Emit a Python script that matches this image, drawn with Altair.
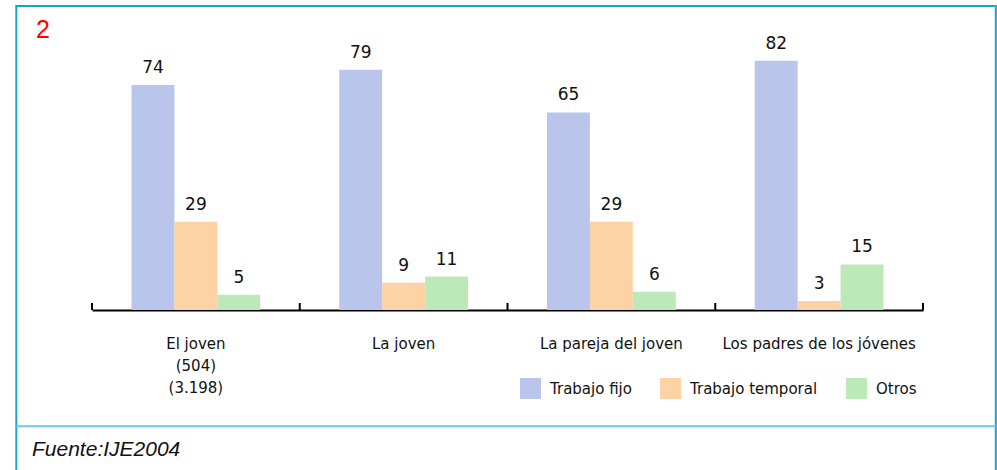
import altair as alt
import pandas as pd

# --- data -------------------------------------------------------------------
categorias = ["El joven", "La joven", "La pareja del joven", "Los padres de los jóvenes"]
lineas_extra = {"El joven": ["El joven", "(504)", "(3.198)"]}
series = ["Trabajo fijo", "Trabajo temporal", "Otros"]
trabajo_fijo = [74, 79, 65, 82]
trabajo_temporal = [29, 9, 29, 3]
otros = [5, 11, 6, 15]
colores = ["#b9c5ea", "#fdd3a6", "#bde8b7"]
titulo_num = "2"
fuente = "Fuente:IJE2004"

rows = []
for i, c in enumerate(categorias):
    for s, vals in zip(series, [trabajo_fijo, trabajo_temporal, otros]):
        rows.append({"categoria": c, "serie": s, "valor": vals[i]})
df = pd.DataFrame(rows)

# --- layout -----------------------------------------------------------------
W, H = 831, 304
PAD = {"left": 92, "top": 6, "right": 74, "bottom": 160}
BORDE = "#17a3cb"
FONT = "DejaVu Sans"

x_scale = alt.Scale(domain=categorias, paddingInner=0, paddingOuter=0)
off_scale = alt.Scale(domain=series, paddingInner=0, paddingOuter=0.92)
y_scale = alt.Scale(domain=[0, 100], nice=False, zero=True)
color_scale = alt.Scale(domain=series, range=colores)

# multi-line label for the first category
expr_parts = []
for k, lines in lineas_extra.items():
    arr = "[" + ", ".join("'" + l + "'" for l in lines) + "]"
    expr_parts.append(f"datum.value == '{k}' ? {arr} : ")
label_expr = "".join(expr_parts) + "datum.label"

x_axis = alt.Axis(
    title=None, labelAngle=0, ticks=False, domainColor="black", domainWidth=2,
    labelFont=FONT, labelFontSize=15, labelColor="#111111", labelPadding=26,
    labelLineHeight=22, labelExpr=label_expr, labelLimit=0,
)

X = alt.X("categoria:N", scale=x_scale, sort=categorias, axis=x_axis)
XO = alt.XOffset("serie:N", scale=off_scale, sort=series)
Y = alt.Y("valor:Q", scale=y_scale, axis=None)

base = alt.Chart(df)

bars = base.mark_bar().encode(
    x=X, xOffset=XO, y=Y,
    color=alt.Color(
        "serie:N", scale=color_scale, sort=series,
        legend=alt.Legend(
            title=None, orient="none", legendX=428, legendY=372,
            direction="horizontal", symbolType="square", symbolSize=441,
            symbolStrokeWidth=0, symbolOpacity=1, labelFont=FONT,
            labelFontSize=15, labelColor="#111111", labelOffset=9,
            columnPadding=28,
        ),
    ),
)

valores = base.mark_text(
    baseline="alphabetic", dy=-12, font=FONT, fontSize=17, color="#111111"
).encode(x=X, xOffset=XO, y=Y, text="valor:Q")

# small upward ticks at the band boundaries
ticks_ini = alt.Chart(pd.DataFrame({"categoria": categorias})).mark_rule(
    color="black", strokeWidth=2
).encode(
    x=alt.X("categoria:N", bandPosition=0, scale=x_scale, sort=categorias, axis=x_axis),
    y=alt.value(H - 7), y2=alt.value(H),
)
ticks_fin = alt.Chart(pd.DataFrame({"categoria": categorias[-1:]})).mark_rule(
    color="black", strokeWidth=2
).encode(
    x=alt.X("categoria:N", bandPosition=1, scale=x_scale, sort=categorias, axis=x_axis),
    y=alt.value(H - 7), y2=alt.value(H),
)

# frame, separator and texts around the plot
one = alt.Chart(pd.DataFrame({"k": [0]}))
marco = one.mark_rect(fillOpacity=0, stroke=BORDE, strokeWidth=2).encode(
    x=alt.value(-75.7), x2=alt.value(903.8), y=alt.value(0), y2=alt.value(480)
)
separador = one.mark_rule(color="#6cc8e2", strokeWidth=2).encode(
    x=alt.value(-75.7), x2=alt.value(903.8), y=alt.value(420.3)
)
numero = one.mark_text(
    text=titulo_num, align="left", baseline="alphabetic",
    font="Liberation Sans", fontSize=25, color="#ff0000"
).encode(x=alt.value(-56), y=alt.value(31.5))
pie = one.mark_text(
    text=fuente, align="left", baseline="alphabetic",
    font="Liberation Sans", fontStyle="italic", fontSize=21, color="#111111"
).encode(x=alt.value(-60), y=alt.value(450))

chart = alt.layer(
    bars, valores, ticks_ini, ticks_fin, marco, separador, numero, pie
).properties(
    width=W, height=H, padding=PAD,
    autosize=alt.AutoSizeParams(type="none"), background="white",
).configure_view(strokeWidth=0)

chart.save("out.html", embed_options={"renderer": "svg", "actions": False})
